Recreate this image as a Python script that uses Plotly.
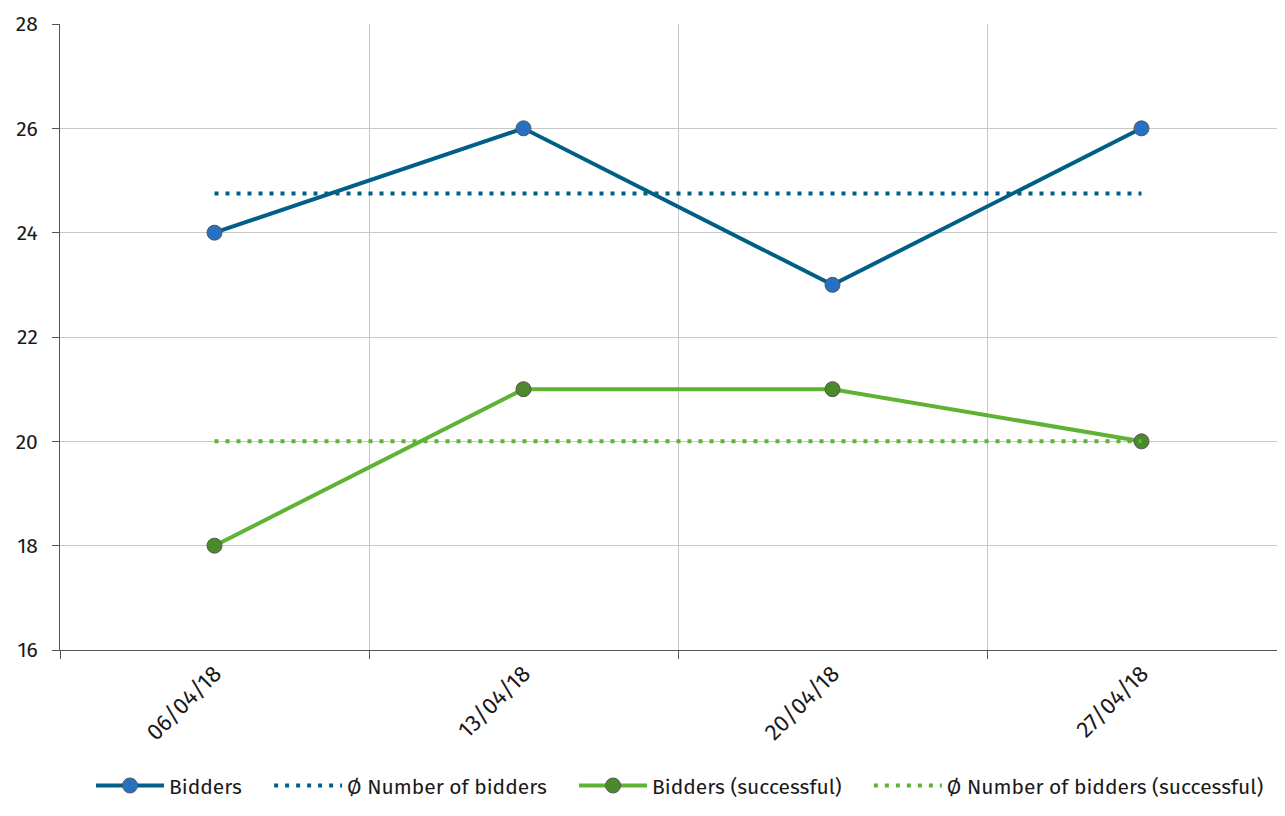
import plotly.graph_objects as go

dates = ["06/04/18", "13/04/18", "20/04/18", "27/04/18"]
bidders = [24, 26, 23, 26]
avg_bidders = [24.75, 24.75, 24.75, 24.75]
successful = [18, 21, 21, 20]
avg_successful = [20, 20, 20, 20]
y_ticks = [16, 18, 20, 22, 24, 26, 28]
names = ["Bidders", "Ø Number of bidders", "Bidders (successful)", "Ø Number of bidders (successful)"]

BLUE = "#005f87"
BLUE_M = "#2671c4"
GREEN = "#5eb234"
GREEN_M = "#4a8a2a"
FONT = "Fira Sans, Noto Sans, sans-serif"
PAD = "\u00a0" * 4

fig = go.Figure()
fig.add_trace(go.Scatter(x=dates, y=bidders, name=names[0] + PAD, mode="lines+markers",
                         line=dict(color=BLUE, width=4),
                         marker=dict(size=15, color=BLUE_M, line=dict(color="#555555", width=1))))
fig.add_trace(go.Scatter(x=dates, y=avg_bidders, name=names[1] + PAD, mode="lines",
                         line=dict(color=BLUE, width=4, dash="4px,7px")))
fig.add_trace(go.Scatter(x=dates, y=successful, name=names[2] + PAD, mode="lines+markers",
                         line=dict(color=GREEN, width=4),
                         marker=dict(size=15, color=GREEN_M, line=dict(color="#555555", width=1))))
fig.add_trace(go.Scatter(x=dates, y=avg_successful, name=names[3], mode="lines",
                         line=dict(color=GREEN, width=4, dash="4px,7px")))

W = 1277
fig.update_layout(
    width=W, height=808,
    margin=dict(l=52, r=0, t=16, b=166, autoexpand=False),
    plot_bgcolor="white", paper_bgcolor="white",
    font=dict(family=FONT, size=21, color="#1a1a1a"),
    showlegend=True,
    legend=dict(orientation="h", x=(672 - 52) / (W - 52), xanchor="center", y=-0.217, yanchor="middle",
                font=dict(size=21), itemwidth=68, traceorder="normal"),
    xaxis=dict(type="category", range=[-0.5, -0.5 + (W - 52) / 309.0], tickson="boundaries",
               ticks="outside", ticklen=8, tickcolor="#555555",
               showgrid=True, gridcolor="#c8c8c8", gridwidth=1,
               showline=True, linecolor="#555555", linewidth=1,
               tickangle=-45, tickfont=dict(size=23), zeroline=False),
    yaxis=dict(range=[16, 28], tickvals=y_ticks, ticks="outside", ticklen=7,
               tickcolor="#555555", showgrid=True, gridcolor="#c8c8c8", gridwidth=1,
               showline=True, linecolor="#555555", linewidth=1, zeroline=False,
               ticklabelstandoff=10, tickfont=dict(size=21)),
)

fig.write_html("out.html")
